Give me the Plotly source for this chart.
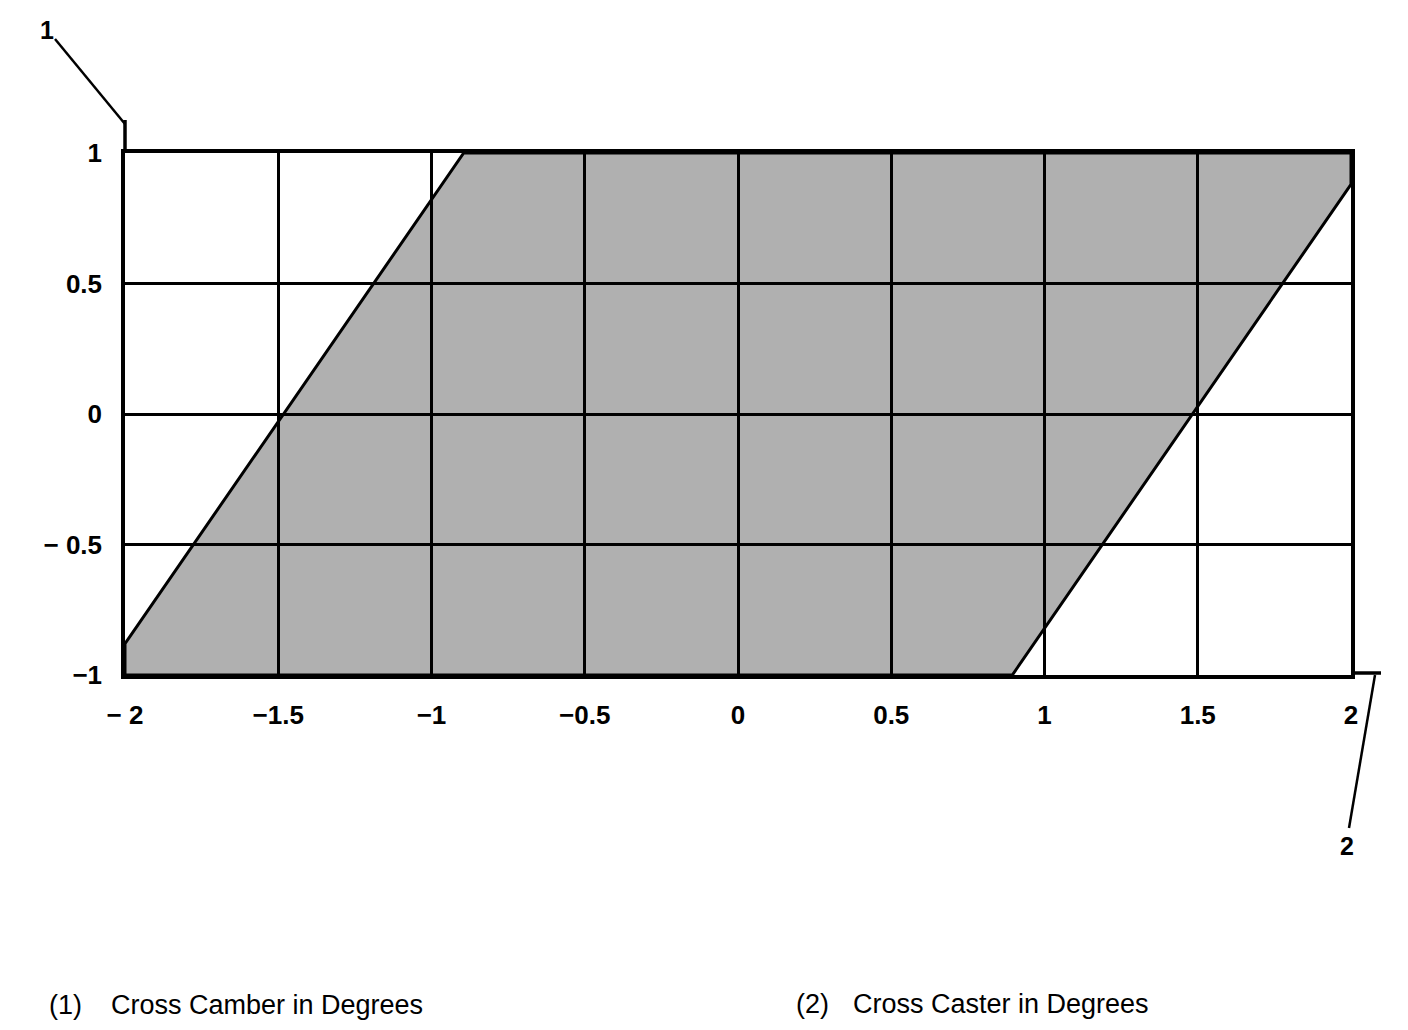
import plotly.graph_objects as go

# Region boundary (parallelogram) in degrees
poly_x = [-2.0, -2.0, -0.895, 2.0, 2.0, 0.895, -2.0]
poly_y = [-1.0, -0.88, 1.0, 1.0, 0.88, -1.0, -1.0]

x_ticks = [-2, -1.5, -1, -0.5, 0, 0.5, 1, 1.5, 2]
x_labels = ["\u2212 2", "\u22121.5", "\u22121", "\u22120.5", "0", "0.5", "1", "1.5", "2"]
y_ticks = [-1, -0.5, 0, 0.5, 1]
y_labels = ["\u22121", "\u2212 0.5", "0", "0.5", "1"]

legend_num = ["(1)", "(2)"]
legend_txt = ["Cross Camber in Degrees", "Cross Caster in Degrees"]

# page offset (body margin) compensation
OX, OY = 8, 8
PAGE_W, PAGE_H = 1408, 1030
W, H = PAGE_W - 2 * OX, PAGE_H - 2 * OY
# plot area in page pixels
PL, PR, PT, PB = 125, 1351, 153, 675
L, T = PL - OX, PT - OY
R, B = W - (PR - OX), H - (PB - OY)
pw, ph = PR - PL, PB - PT

def px(xp):
    return (xp - PL) / pw

def py(yp):
    return (PB - yp) / ph

FONT = "Liberation Sans, Arial, Helvetica, sans-serif"

fig = go.Figure()
fig.add_trace(go.Scatter(
    x=poly_x, y=poly_y, mode="lines", fill="toself",
    fillcolor="rgba(0,0,0,0.31)",
    line=dict(color="black", width=3),
    hoverinfo="skip", showlegend=False,
))

tickfont = dict(family=FONT, size=26, color="black")
fig.update_xaxes(
    range=[-2, 2], tickvals=x_ticks, ticktext=["<b>%s</b>" % t for t in x_labels],
    showgrid=True, gridcolor="black", gridwidth=3,
    showline=True, linecolor="black", linewidth=3.5, mirror=True,
    zeroline=False, ticks="", ticklabelstandoff=14,
    tickfont=tickfont,
)
fig.update_yaxes(
    range=[-1, 1], tickvals=y_ticks, ticktext=["<b>%s</b>" % t for t in y_labels],
    showgrid=True, gridcolor="black", gridwidth=3,
    showline=True, linecolor="black", linewidth=3.5, mirror=True,
    zeroline=False, ticks="", ticklabelstandoff=14,
    tickfont=tickfont,
)

shapes = [
    dict(type="line", xref="paper", yref="paper", x0=0, y0=1, x1=0, y1=py(120),
         line=dict(color="black", width=3.5)),
    dict(type="line", xref="paper", yref="paper", x0=px(55), y0=py(39), x1=px(125), y1=py(124),
         line=dict(color="black", width=2.5)),
    dict(type="line", xref="paper", yref="paper", x0=1, y0=py(673), x1=px(1381), y1=py(673),
         line=dict(color="black", width=3.5)),
    dict(type="line", xref="paper", yref="paper", x0=px(1375), y0=py(675), x1=px(1349), y1=py(828),
         line=dict(color="black", width=2.5)),
]

annfont = dict(family=FONT, size=25, color="black")
txtfont = dict(family=FONT, size=27, color="black")
annotations = [
    dict(text="<b>1</b>", xref="paper", yref="paper", x=px(47), y=py(30),
         showarrow=False, font=annfont, xanchor="center", yanchor="middle"),
    dict(text="<b>2</b>", xref="paper", yref="paper", x=px(1347), y=py(846),
         showarrow=False, font=annfont, xanchor="center", yanchor="middle"),
    dict(text=legend_num[0], xref="paper", yref="paper", x=px(47), y=py(1005),
         showarrow=False, xanchor="left", yanchor="middle", font=txtfont),
    dict(text=legend_txt[0], xref="paper", yref="paper", x=px(109), y=py(1005),
         showarrow=False, xanchor="left", yanchor="middle", font=txtfont),
    dict(text=legend_num[1], xref="paper", yref="paper", x=px(794), y=py(1004),
         showarrow=False, xanchor="left", yanchor="middle", font=txtfont),
    dict(text=legend_txt[1], xref="paper", yref="paper", x=px(851), y=py(1004),
         showarrow=False, xanchor="left", yanchor="middle", font=txtfont),
]

fig.update_layout(
    width=W, height=H,
    margin=dict(l=L, r=R, t=T, b=B, autoexpand=False),
    paper_bgcolor="white", plot_bgcolor="white",
    shapes=shapes, annotations=annotations,
    font=dict(family=FONT, color="black"),
)

fig.write_html("out.html")
